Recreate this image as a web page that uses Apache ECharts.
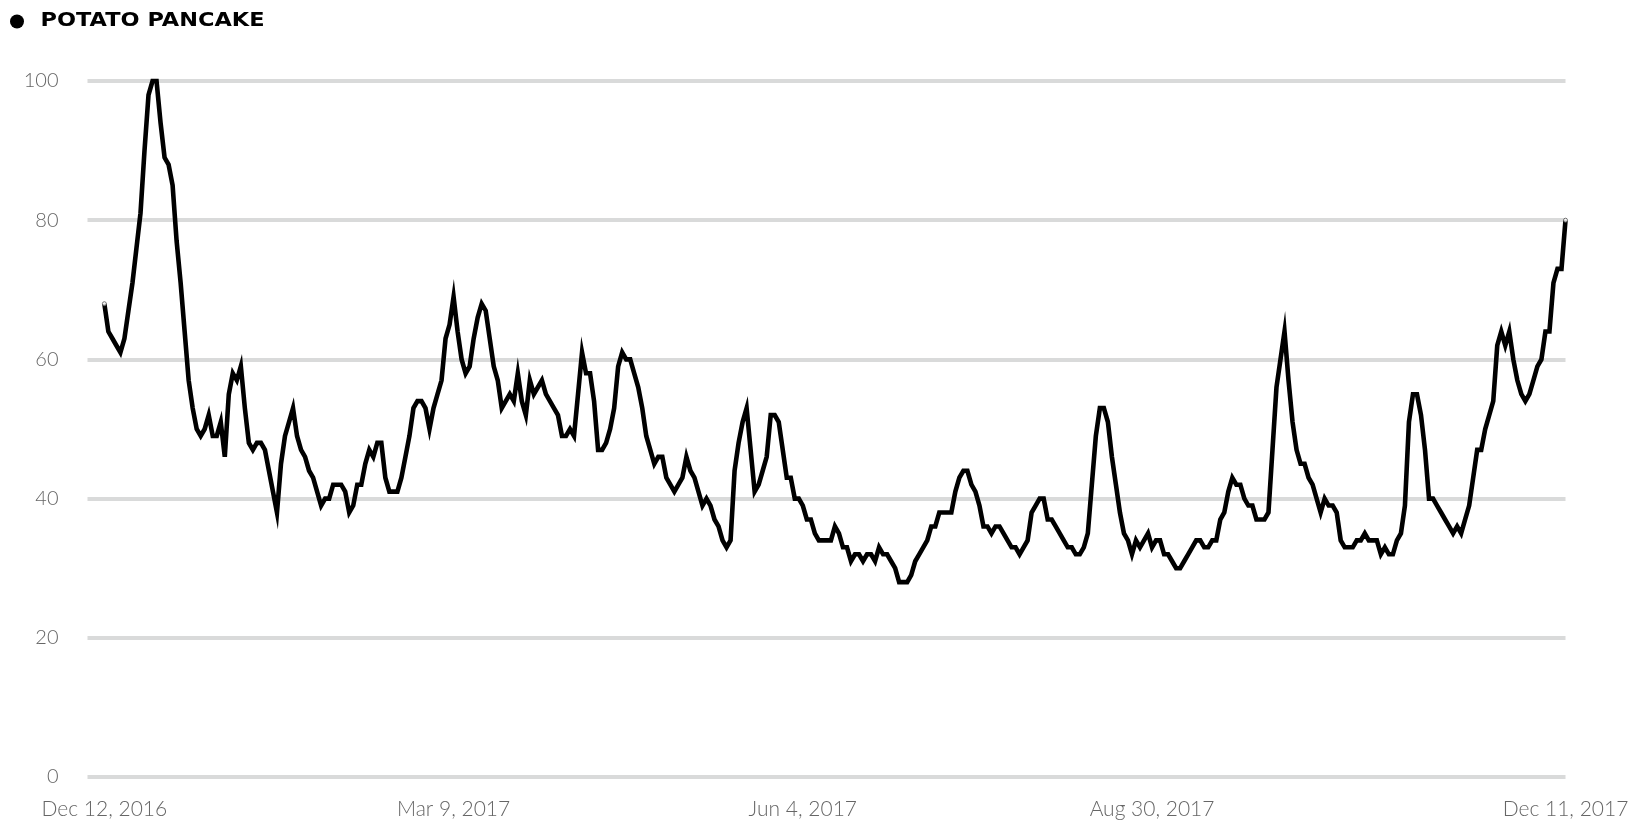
<!DOCTYPE html>
<html>
<head>
<meta charset="utf-8">
<script src="https://cdn.jsdelivr.net/npm/echarts@6/dist/echarts.min.js"></script>
<style>
html,body{margin:0;padding:0;background:#fff;}
#chart{width:1636px;height:832px;}
</style>
</head>
<body>
<div id="chart"></div>
<script>
// ---- data ----
const seriesName = "POTATO PANCAKE";
const startDate = "2016-12-12";
// daily interest values, Dec 12, 2016 .. Dec 11, 2017 (365 days)
const values = [
  68,64,63,62,61,63,67,71,76,81,
  90,98,100,100,94,89,88,85,77,71,
  64,57,53,50,49,50,52,49,49,51,
  46,55,58,57,59,53,48,47,48,48,
  47,44,41,38,45,49,51,53,49,47,
  46,44,43,41,39,40,40,42,42,42,
  41,38,39,42,42,45,47,46,48,48,
  43,41,41,41,43,46,49,53,54,54,
  53,50,53,55,57,63,65,69,64,60,
  58,59,63,66,68,67,63,59,57,53,
  54,55,54,58,54,52,57,55,56,57,
  55,54,53,52,49,49,50,49,55,61,
  58,58,54,47,47,48,50,53,59,61,
  60,60,58,56,53,49,47,45,46,46,
  43,42,41,42,43,46,44,43,41,39,
  40,39,37,36,34,33,34,44,48,51,
  53,47,41,42,44,46,52,52,51,47,
  43,43,40,40,39,37,37,35,34,34,
  34,34,36,35,33,33,31,32,32,31,
  32,32,31,33,32,32,31,30,28,28,
  28,29,31,32,33,34,36,36,38,38,
  38,38,41,43,44,44,42,41,39,36,
  36,35,36,36,35,34,33,33,32,33,
  34,38,39,40,40,37,37,36,35,34,
  33,33,32,32,33,35,42,49,53,53,
  51,46,42,38,35,34,32,34,33,34,
  35,33,34,34,32,32,31,30,30,31,
  32,33,34,34,33,33,34,34,37,38,
  41,43,42,42,40,39,39,37,37,37,
  38,47,56,60,64,57,51,47,45,45,
  43,42,40,38,40,39,39,38,34,33,
  33,33,34,34,35,34,34,34,32,33,
  32,32,34,35,39,51,55,55,52,47,
  40,40,39,38,37,36,35,36,35,37,
  39,43,47,47,50,52,54,62,64,62,
  64,60,57,55,54,55,57,59,60,64,
  64,71,73,73,80
];
// x-axis tick labels and their day offsets from startDate
const tickDays = [0, 87, 174, 261, 364];
const tickLabels = ["Dec 12, 2016", "Mar 9, 2017", "Jun 4, 2017", "Aug 30, 2017", "Dec 11, 2017"];
const yTicks = [0, 20, 40, 60, 80, 100];

// ---- chart ----
const chart = echarts.init(document.getElementById('chart'), null, {renderer: 'canvas'});
const seriesData = values.map((v, i) => [i, v]);
const endPoints = [seriesData[0], seriesData[seriesData.length - 1]];

// measure title to emulate the wide letter-spaced heading
const titleFont = 'bold 19px "DejaVu Sans"';
const mctx = document.createElement('canvas').getContext('2d');
mctx.font = titleFont;
const natural = mctx.measureText(seriesName).width;
const targetWidth = 224;
const sx = targetWidth / natural;

const labelStyle = {color: '#666', fontFamily: 'Lato', fontSize: 20, fontWeight: 300};

const option = {
  animation: false,
  backgroundColor: '#ffffff',
  grid: {left: 87.5, right: 70.5, top: 81, bottom: 55, containLabel: false},
  graphic: [
    {type: 'circle', left: 10, top: 14.5, shape: {r: 7}, style: {fill: '#000'}},
    {type: 'text', x: 40.5, y: 21.5, scaleX: sx, scaleY: 1,
     style: {text: seriesName, font: titleFont, fill: '#000', textVerticalAlign: 'middle', verticalAlign: 'middle'}}
  ],
  xAxis: {
    type: 'value',
    min: -4.2,
    max: values.length - 1,
    axisLine: {show: false},
    axisTick: {show: false},
    splitLine: {show: false},
    axisLabel: Object.assign({
      customValues: tickDays,
      hideOverlap: false,
      margin: 22,
      fontSize: 21,
      formatter: function (val) {
        const idx = tickDays.indexOf(Math.round(val));
        return idx >= 0 ? tickLabels[idx] : '';
      }
    }, {color: labelStyle.color, fontFamily: labelStyle.fontFamily, fontWeight: labelStyle.fontWeight})
  },
  yAxis: {
    type: 'value',
    min: yTicks[0],
    max: yTicks[yTicks.length - 1],
    interval: 20,
    axisLine: {show: false},
    axisTick: {show: false},
    axisLabel: Object.assign({margin: 29}, labelStyle),
    splitLine: {show: true, lineStyle: {color: '#d9dada', width: 4}}
  },
  series: [{
    name: seriesName,
    type: 'line',
    data: seriesData,
    showSymbol: false,
    symbol: 'none',
    clip: false,
    z: 2,
    lineStyle: {color: '#000', width: 4.6, join: 'miter', miterLimit: 10},
    emphasis: {disabled: true}
  }, {
    name: seriesName + ' ends',
    type: 'scatter',
    data: endPoints,
    symbol: 'circle',
    symbolSize: 4,
    z: 3,
    silent: true,
    itemStyle: {color: '#fff', borderColor: '#555', borderWidth: 1}
  }]
};
chart.setOption(option);
</script>
</body>
</html>
